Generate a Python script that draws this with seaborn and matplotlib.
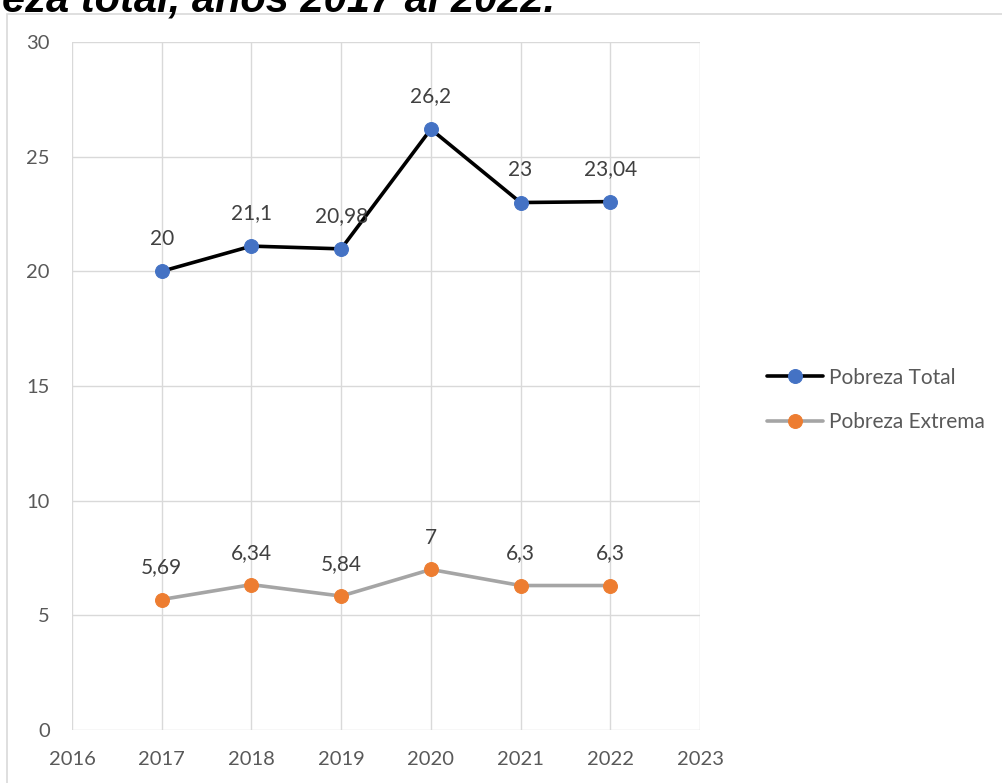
import matplotlib
matplotlib.use("Agg")
import matplotlib.pyplot as plt
import seaborn as sns
import pandas as pd
from matplotlib.patches import Rectangle

years = [2017, 2018, 2019, 2020, 2021, 2022]
pobreza_total = [20, 21.1, 20.98, 26.2, 23, 23.04]
pobreza_extrema = [5.69, 6.34, 5.84, 7, 6.3, 6.3]
labels_total = ["20", "21,1", "20,98", "26,2", "23", "23,04"]
labels_extrema = ["5,69", "6,34", "5,84", "7", "6,3", "6,3"]
x_ticks = list(range(2016, 2024))
y_ticks = [0, 5, 10, 15, 20, 25, 30]

sns.set_style("white")
plt.rcParams["font.family"] = ["Lato", "DejaVu Sans"]

W, H = 1002, 783
fig = plt.figure(figsize=(W / 100, H / 100), dpi=100)
ax = fig.add_axes([72 / W, (H - 730) / H, (700 - 72) / W, (730 - 42) / H])

df = pd.DataFrame({"year": years, "total": pobreza_total, "extrema": pobreza_extrema})

sns.lineplot(data=df, x="year", y="total", ax=ax, color="black", linewidth=2.6,
             marker="o", markersize=10, markerfacecolor="#4472C4",
             markeredgecolor="#4472C4", label="Pobreza Total")
sns.lineplot(data=df, x="year", y="extrema", ax=ax, color="#A5A5A5", linewidth=2.6,
             marker="o", markersize=10, markerfacecolor="#ED7D31",
             markeredgecolor="#ED7D31", label="Pobreza Extrema")

# data labels above each point
for x, y, t in zip(years, pobreza_total, labels_total):
    ax.annotate(t, (x, y), xytext=(0, 23.5), textcoords="offset points",
                ha="center", va="center", fontsize=15, color="#404040")
for x, y, t in zip(years, pobreza_extrema, labels_extrema):
    ax.annotate(t, (x, y), xytext=(0, 23), textcoords="offset points",
                ha="center", va="center", fontsize=15, color="#404040")

ax.set_xlim(2016, 2023)
ax.set_ylim(0, 30)
ax.set_xticks(x_ticks)
ax.set_yticks(y_ticks)
ax.set_xlabel("")
ax.set_ylabel("")
ax.grid(True, color="#D9D9D9", linewidth=1)
for s in ax.spines.values():
    s.set_visible(False)
ax.tick_params(axis="both", length=0, labelsize=14.5, labelcolor="#595959")
ax.tick_params(axis="x", pad=15)
ax.tick_params(axis="y", pad=16)

ax.legend(loc="center left", bbox_to_anchor=(748 / W, 1 - 400 / H),
          bbox_transform=fig.transFigure, frameon=False, fontsize=15,
          handlelength=2.7, handletextpad=0.3, labelspacing=1.2,
          labelcolor="#595959")

# chart frame
fig.patches.append(Rectangle((7 / W, -0.01), 1, 1 - 14 / H + 0.01,
                             transform=fig.transFigure, fill=False,
                             edgecolor="#D9D9D9", linewidth=1.2))

# title, cut off at the top like in the source
fig.text(0.002, 1 - 11 / H, "eza total, años 2017 al 2022.", fontsize=30,
         fontweight="bold", fontstyle="italic", color="black",
         family=["Liberation Sans", "DejaVu Sans"], ha="left", va="baseline")

fig.savefig("out.png", dpi=100)
